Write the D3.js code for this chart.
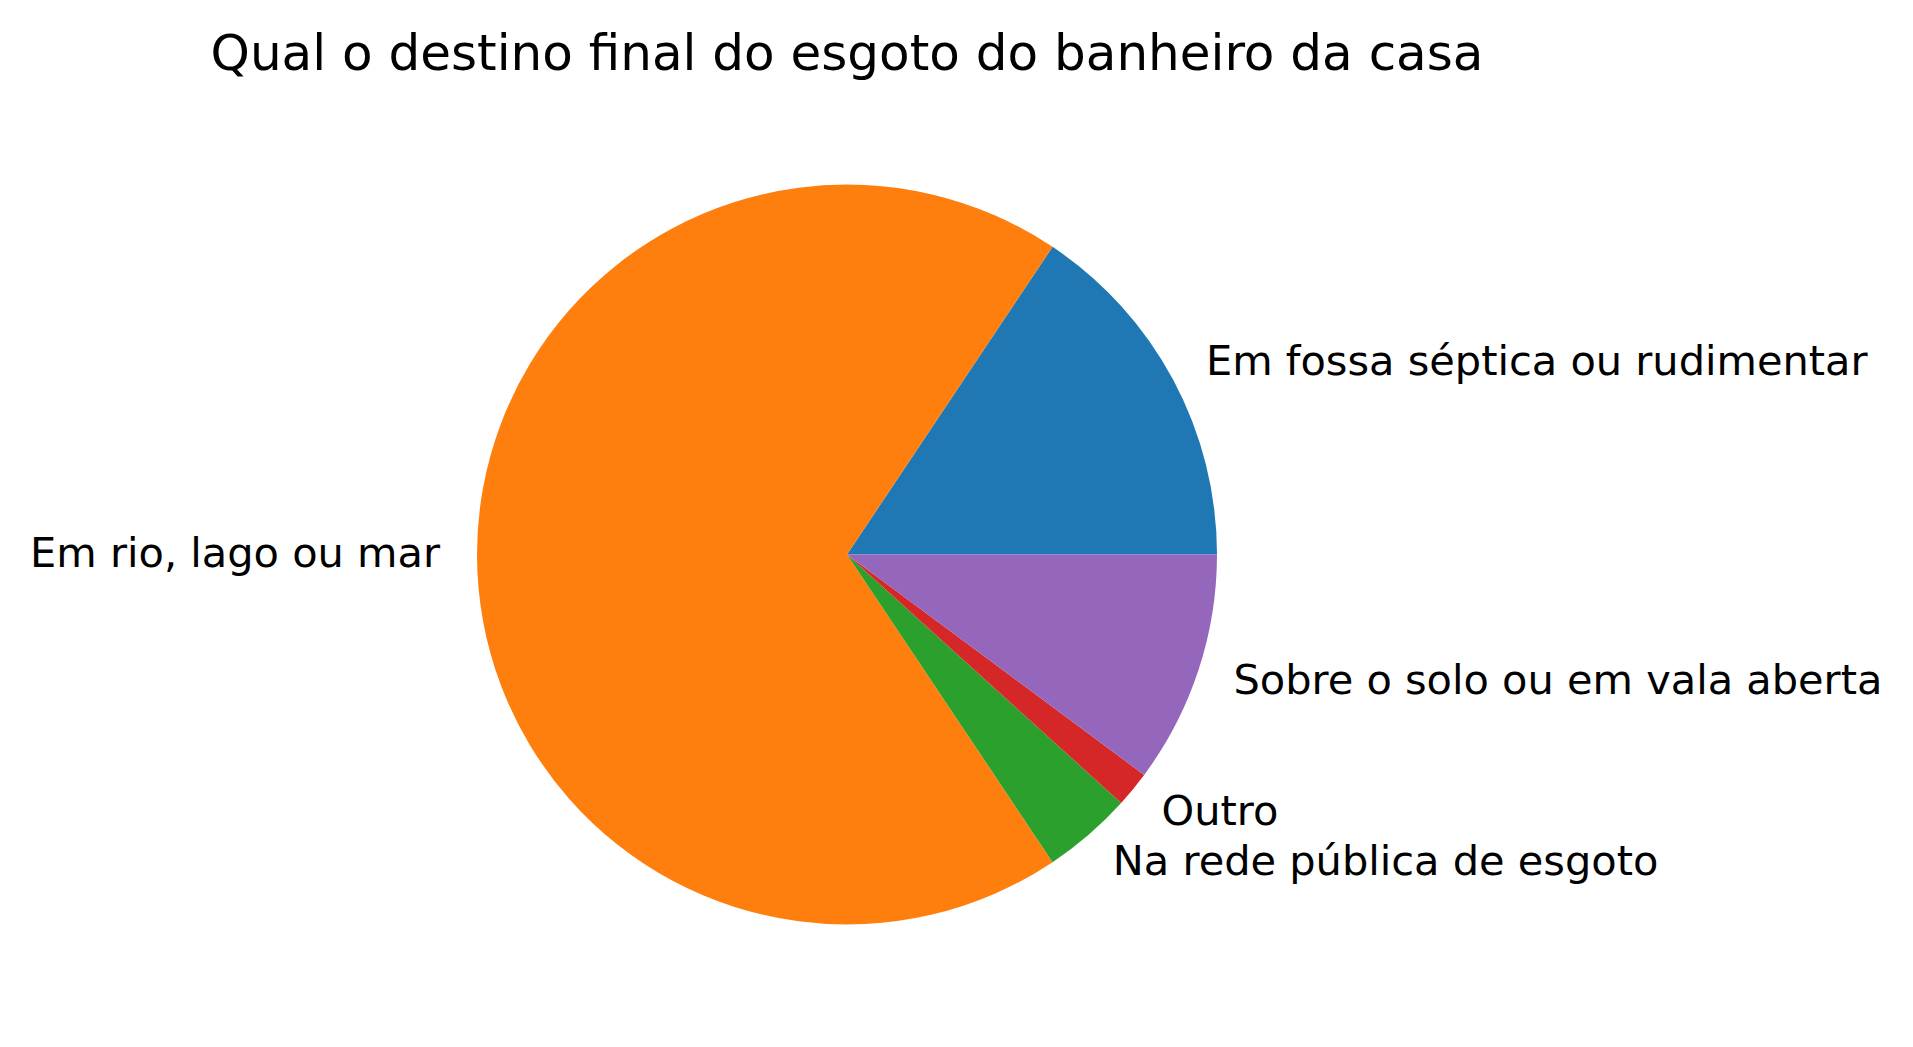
<!DOCTYPE html>
<meta charset="utf-8">
<style>
body { margin: 0; background: #fff; }
text { font-family: "DejaVu Sans", sans-serif; fill: #000; }
</style>
<svg width="1913" height="1047"></svg>
<script src="https://cdn.jsdelivr.net/npm/d3@7"></script>
<script>
var categories = ["Em fossa séptica ou rudimentar", "Em rio, lago ou mar", "Na rede pública de esgoto", "Outro", "Sobre o solo ou em vala aberta"];
var counts = [20, 88, 5, 2, 13];
var colors = ["#1f77b4", "#ff7f0e", "#2ca02c", "#d62728", "#9467bd"];
var title = "Qual o destino final do esgoto do banheiro da casa";

var svg = d3.select("svg"),
    cx = 847, cy = 554.5, r = 370;

var data = categories.map(function(c, i) { return {name: c, value: counts[i]}; });

// matplotlib style: start at 3 o'clock, go counterclockwise
var pie = d3.pie()
    .sort(null)
    .value(function(d) { return d.value; })
    .startAngle(Math.PI / 2)
    .endAngle(Math.PI / 2 - 2 * Math.PI);

var arc = d3.arc().innerRadius(0).outerRadius(r);

var g = svg.append("g").attr("transform", "translate(" + cx + "," + cy + ")");

var arcs = pie(data);

g.selectAll("path")
    .data(arcs)
  .enter().append("path")
    .attr("d", arc)
    .attr("fill", function(d, i) { return colors[i]; });

g.selectAll("text")
    .data(arcs)
  .enter().append("text")
    .attr("x", function(d) { var a = (d.startAngle + d.endAngle) / 2; return 1.1 * r * Math.sin(a); })
    .attr("y", function(d) { var a = (d.startAngle + d.endAngle) / 2; return -1.1 * r * Math.cos(a) + 12; })
    .attr("text-anchor", function(d) { var a = (d.startAngle + d.endAngle) / 2; return Math.sin(a) > 0 ? "start" : "end"; })
    .style("font-size", "41.5px")
    .text(function(d) { return d.data.name; });

svg.append("text")
    .attr("x", cx)
    .attr("y", 70)
    .attr("text-anchor", "middle")
    .style("font-size", "50px")
    .text(title);
</script>
